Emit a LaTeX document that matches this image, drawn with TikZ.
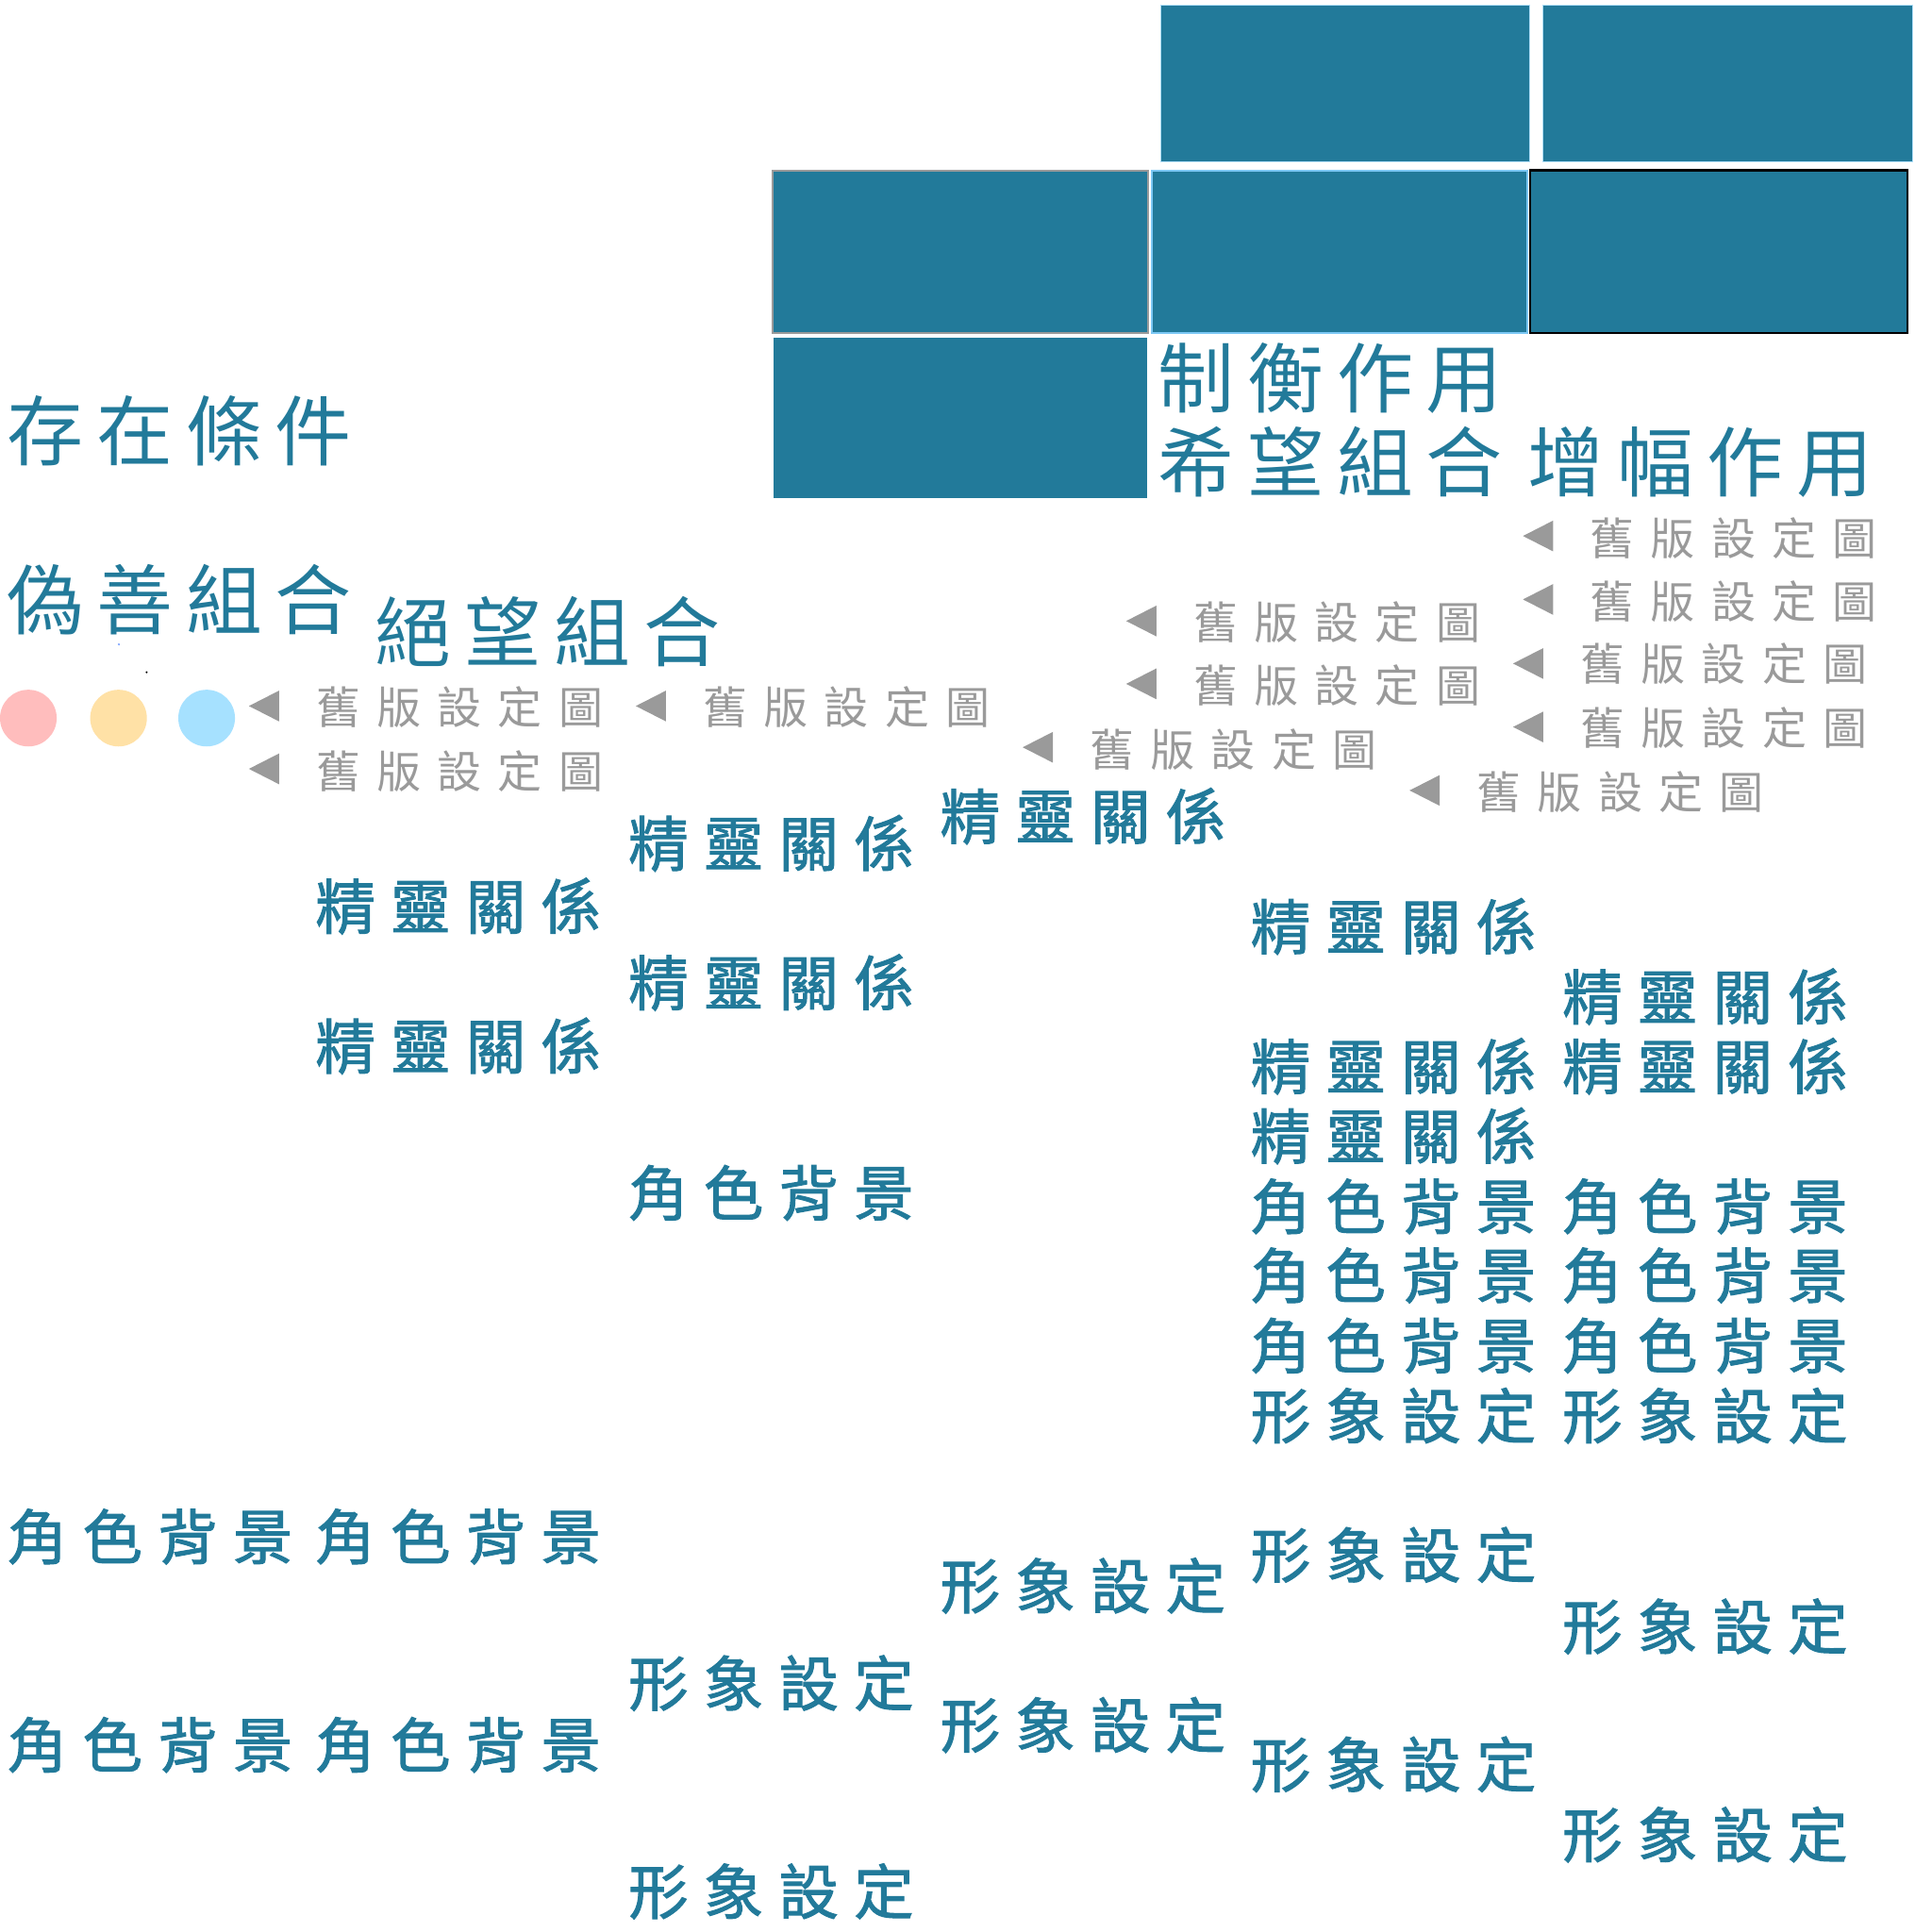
\documentclass[tikz,border=0pt]{standalone}
\usepackage{fontspec}
\newfontfamily\cjk{Noto Sans CJK TC}
\newfontfamily\cjkm[FakeBold=1.6]{Noto Sans CJK TC}
\definecolor{teal1}{HTML}{227A9A}
\definecolor{grey1}{HTML}{9A9A9A}
\definecolor{pink1}{HTML}{FFBDBD}
\definecolor{yell1}{HTML}{FFE1A6}
\definecolor{sky1}{HTML}{A6E1FF}
\definecolor{edge1}{HTML}{7CC8F5}
\makeatletter
\def\lsp{0pt}
\newcommand\spaced[1]{\sp@ced#1\sp@end}
\def\sp@ced#1#2\sp@end{#1\if\relax\detokenize{#2}\relax\else\hspace{\lsp}\sp@ced#2\sp@end\fi}
\makeatother
\tikzset{
  ttl/.style={font={\cjk\fontsize{62bp}{70bp}\selectfont\def\lsp{10.7bp}}, text=teal1, anchor=west, inner sep=0pt, outer sep=0pt, text height=54.6bp, text depth=7.4bp, xshift=-2.5bp},
  lbl/.style={font={\cjkm\fontsize{48.5bp}{56bp}\selectfont\def\lsp{12.5bp}}, text=teal1, anchor=west, inner sep=0pt, outer sep=0pt, text height=42.7bp, text depth=5.8bp, xshift=-1.9bp},
  gry/.style={font={\cjk\fontsize{36bp}{42bp}\selectfont\def\lsp{13.2bp}}, text=grey1, anchor=west, inner sep=0pt, outer sep=0pt, text height=31.7bp, text depth=4.3bp, xshift=-1.4bp},
  tri/.style={fill=grey1},
  rect/.style={fill=teal1, inner sep=0pt, outer sep=0pt},
  dot/.style={circle, inner sep=0pt, minimum size=46bp}
}
\begin{document}
\begin{tikzpicture}[x=1bp, y=-1bp]
\useasboundingbox[fill=white] (0,0) rectangle (1568,1568);
% rectangles
\node[rect, draw=edge1!60, line width=0.6bp, minimum width=299bp, minimum height=127bp] (A) at (1091.5,68) {};
\node[rect, draw=edge1!60, line width=0.6bp, minimum width=299.6bp, minimum height=127bp] (B) at (1402.2,68) {};
\node[rect, draw=grey1, line width=1.6bp, minimum width=305bp, minimum height=132bp] (C) at (779.5,204.3) {};
\node[rect, draw=edge1, line width=1.6bp, minimum width=305bp, minimum height=132bp] (D) at (1087.1,204.3) {};
\node[rect, draw=black, line width=1.8bp, minimum width=306bp, minimum height=132bp] (E) at (1395,204.2) {};
\node[rect, minimum width=303bp, minimum height=130bp] (F) at (779.5,339) {};
% titles
\node[ttl] (t1) at (942,306.5) {\spaced{制衡作用}};
\node[ttl] (t2) at (942,375) {\spaced{希望組合}\hspace{\lsp}\hspace{10bp}\spaced{增幅作用}};
\node[ttl] (t3) at (8,350) {\spaced{存在條件}};
\node[ttl] (t4) at (8,486.5) {\spaced{偽善組合}};
\node[ttl] (t5) at (307,513) {\spaced{絕望組合}};
% circles
\node[dot, fill=pink1] (c1) at (23,582.8) {};
\node[dot, fill=yell1] (c2) at (96.2,582.8) {};
\node[dot, fill=sky1] (c3) at (167.7,582.8) {};
\fill[sky1!70!blue] (96.5,523) circle (0.9);
\fill[black] (119,545.6) circle (0.9);
% grey pointers
\foreach \tx/\ty/\gx/\gy/\nm in {202/573/258/574/g1, 202/624/258/626/g2, 516/573/572/574/g3,
  914/504/970/505/g4, 914/555/970/556.5/g5, 830/606.5/886/608.5/g6,
  1236/435/1292/436.5/g7, 1236/486.5/1292/488.5/g8, 1228/538.5/1284/539/g9,
  1228/590/1284/591/g10, 1144/641.5/1200/642.5/g11}{
  \fill[tri] (\tx,\ty) -- ++(24.5,-12.5) -- ++(0,25) -- cycle;
  \node[gry] (\nm) at (\gx,\gy) {\spaced{舊版設定圖}};
}
% blue labels
\foreach \lx/\ly/\nm in {512/684.5/s1, 258/735.5/s2, 512/797.5/s3, 258/849/s4, 765/662.5/s5,
  1017/752/s6, 1270/809/s7, 1017/865.5/s8, 1270/865.5/s9, 1017/922/s10}{
  \node[lbl] (\nm) at (\lx,\ly) {\spaced{精靈關係}};
}
\foreach \lx/\ly/\nm in {512/968/b1, 1017/979/b2, 1270/979/b3, 1017/1035/b4, 1270/1035/b5,
  1017/1092/b6, 1270/1092/b7, 8/1247/b8, 258/1247/b9, 8/1416/b10, 258/1416/b11}{
  \node[lbl] (\nm) at (\lx,\ly) {\spaced{角色背景}};
}
\foreach \lx/\ly/\nm in {1017/1149/x1, 1270/1149/x2, 765/1287/x3, 1017/1262/x4, 1270/1320/x5,
  512/1366/x6, 765/1400/x7, 1017/1432/x8, 1270/1489/x9, 512/1535/x10}{
  \node[lbl] (\nm) at (\lx,\ly) {\spaced{形象設定}};
}
\end{tikzpicture}
\end{document}
